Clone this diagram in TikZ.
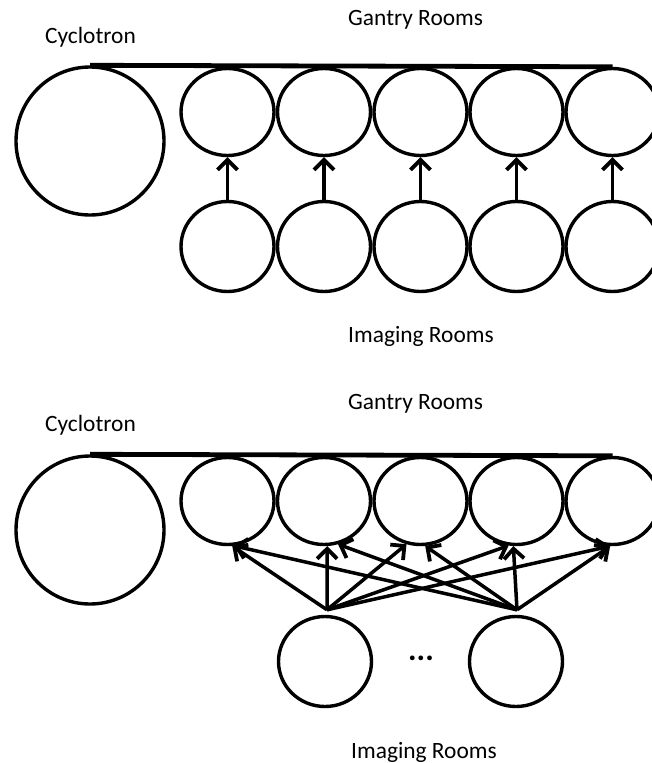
\documentclass[tikz,border=0pt]{standalone}
\usepackage{fontspec}
\setmainfont{Carlito}
\usetikzlibrary{shapes.geometric,arrows.meta,calc}
\begin{document}
\begin{tikzpicture}[x=1pt,y=-1pt,
  room/.style={ellipse,draw,line width=3.4pt,inner sep=0pt,minimum width=93pt,minimum height=87pt},
  imroom/.style={room,minimum height=90pt},
  cyc/.style={circle,draw,line width=3.4pt,inner sep=0pt,minimum size=148pt},
  lbl/.style={font=\fontsize{23.4}{28}\selectfont,anchor=base west,inner sep=0pt},
  rail/.style={line width=4.8pt},
  arr/.style={line width=3.5pt,-{Straight Barb[length=10pt,width=20pt,line width=3.8pt]}}]
\useasboundingbox (0,0) rectangle (652,763);
% ---------- top diagram ----------
\node[lbl] (cyclabA) at (45,43) {Cyclotron};
\node[lbl] (ganlabA) at (348,25) {Gantry Rooms};
\node[lbl] (imglabA) at (348,342) {Imaging Rooms};
\node[cyc] (cycA) at (90,141) {};
\foreach \i/\x in {1/227.5,2/324,3/420.5,4/516.5,5/612.5}{
  \node[room] (gA\i) at (\x,112) {};
  \node[imroom] (iA\i) at (\x,246.5) {};
}
\draw[rail] (cycA.north) -- (gA5.north);
\foreach \i in {1,...,5}{
  \draw[arr] (iA\i.north) -- (gA\i.south);
}
% ---------- bottom diagram ----------
\node[lbl] (cyclabB) at (45,431) {Cyclotron};
\node[lbl] (ganlabB) at (348,409) {Gantry Rooms};
\node[lbl] (imglabB) at (351,758) {Imaging Rooms};
\node[cyc] (cycB) at (90,530) {};
\foreach \i/\x in {1/227.5,2/324,3/420.5,4/516.5,5/612.5}{
  \node[room] (gB\i) at (\x,501) {};
}
\node[imroom] (iB1) at (325,661.5) {};
\node[imroom] (iB2) at (516,661.5) {};
\node[font=\fontsize{32}{36}\selectfont\bfseries,inner sep=0pt] (dots) at (421,658) {...};
\draw[rail] (cycB.north) -- (gB5.north);
\coordinate (s1) at ($(iB1.north)+(2,-5)$);
\coordinate (s2) at ($(iB2.north)+(1,-5)$);
\draw[arr] (s1) -- (gB1.-84);
\draw[arr] (s1) -- (gB2.-86);
\draw[arr] (s1) -- (gB3.-108);
\draw[arr] (s1) -- (gB4.-100);
\draw[arr] (s1) -- (gB5.-93);
\draw[arr] (s2) -- (gB1.-82);
\draw[arr] (s2) -- (gB2.-72);
\draw[arr] (s2) -- (gB3.-84);
\draw[arr] (s2) -- (gB4.-94);
\draw[arr] (s2) -- (gB5.-93);
\end{tikzpicture}
\end{document}
